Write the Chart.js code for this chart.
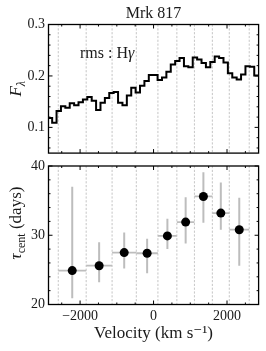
<!DOCTYPE html>
<html><head><meta charset="utf-8">
<script src="https://cdn.jsdelivr.net/npm/chart.js@4"></script>
<style>
html,body{margin:0;padding:0;background:#fff;}
#wrap{position:relative;width:266px;height:351px;overflow:hidden;}
#box1{position:absolute;left:0;top:0;width:266px;height:165px;}
#box2{position:absolute;left:0;top:150px;width:266px;height:201px;}
</style></head><body>
<div id="wrap"><div id="box1"><canvas id="c1"></canvas></div><div id="box2"><canvas id="c2"></canvas></div></div>
<script>
const FONT = "'Liberation Serif','DejaVu Serif',serif";
const TEXT = '#1a1a1a';

// ---- data ----
const chartTitle = 'Mrk 817';
const panelLabel = 'rms : H';
const xRange = [-2860, 2860];
const xTicks = [-2000, 0, 2000];
const fluxRange = [0.05, 0.3];
const fluxTicks = [0.1, 0.2, 0.3];
const tauRange = [20, 40];
const tauTicks = [20, 30, 40];
const fluxVelStart = -2880;
const fluxVelStep = 119.6;
const fluxValues = [0.118,0.109,0.132,0.141,0.138,0.147,0.143,0.149,0.154,0.159,0.152,0.134,
                    0.148,0.157,0.167,0.169,0.148,0.143,0.162,0.177,0.168,0.181,0.190,0.202,
                    0.202,0.192,0.197,0.208,0.222,0.229,0.235,0.219,0.217,0.236,0.232,0.225,
                    0.217,0.227,0.238,0.235,0.226,0.205,0.197,0.193,0.203,0.219,0.218,0.201];
const binEdges = [-2594, -1834, -1129, -469, 119, 635, 1113, 1601, 2062, 2605];
const tauValues = [24.9, 25.6, 27.5, 27.4, 29.9, 31.9, 35.6, 33.2, 30.8];
const tauErrUpper = [12.1, 3.4, 2.9, 2.1, 2.5, 3.6, 3.5, 4.4, 4.6];
const tauErrLower = [4.0, 2.4, 2.3, 2.9, 1.9, 3.1, 3.8, 2.4, 5.2];

// ---- derived ----
const stepPoints = fluxValues.map((v, i) => ({x: fluxVelStart + i * fluxVelStep, y: v}));
stepPoints.push({x: fluxVelStart + fluxValues.length * fluxVelStep, y: fluxValues[fluxValues.length - 1]});
const binCenters = binEdges.slice(0, -1).map((e, i) => (e + binEdges[i + 1]) / 2);
const tauPoints = tauValues.map((v, i) => ({x: binCenters[i], y: v}));

const fmtX = v => v < 0 ? '\u2212' + Math.abs(v) : String(v);

function drawRotated(ctx, cx, cy, pieces) {
  ctx.save();
  ctx.translate(cx, cy); ctx.rotate(-Math.PI / 2);
  let total = 0;
  pieces.forEach(p => { ctx.font = p.font; p.w = ctx.measureText(p.text).width; total += p.w; });
  let xx = -total / 2;
  ctx.textBaseline = 'alphabetic'; ctx.fillStyle = TEXT;
  pieces.forEach(p => { ctx.font = p.font; ctx.fillText(p.text, xx, 6 + (p.dy || 0)); xx += p.w; });
  ctx.restore();
}

function deco(opts) {
  return {
    id: 'deco' + opts.name,
    beforeDatasetsDraw(chart) {
      const {ctx, chartArea: a, scales: {x, y}} = chart;
      ctx.save();
      ctx.beginPath(); ctx.rect(a.left, a.top, a.width, a.height); ctx.clip();
      ctx.strokeStyle = '#b8b8b8'; ctx.lineWidth = 0.8; ctx.setLineDash([2.2, 1.6]);
      binEdges.forEach(v => {
        const px = x.getPixelForValue(v);
        ctx.beginPath(); ctx.moveTo(px, a.top); ctx.lineTo(px, a.bottom); ctx.stroke();
      });
      ctx.setLineDash([]);
      if (opts.errors) {
        ctx.strokeStyle = '#bdbdbd';
        tauValues.forEach((v, i) => {
          const px = x.getPixelForValue(binCenters[i]);
          const py = y.getPixelForValue(v);
          ctx.lineWidth = 2;
          ctx.beginPath();
          ctx.moveTo(px, y.getPixelForValue(v + tauErrUpper[i]));
          ctx.lineTo(px, y.getPixelForValue(v - tauErrLower[i]));
          ctx.stroke();
          ctx.lineWidth = 1.8;
          ctx.beginPath();
          ctx.moveTo(x.getPixelForValue(binEdges[i]), py);
          ctx.lineTo(x.getPixelForValue(binEdges[i + 1]), py);
          ctx.stroke();
        });
      }
      ctx.restore();
    },
    afterDraw(chart) {
      const {ctx, chartArea: a, scales: {x, y}} = chart;
      ctx.save();
      ctx.strokeStyle = '#000'; ctx.lineWidth = 1;
      const seg = (x1, y1, x2, y2) => { ctx.beginPath(); ctx.moveTo(x1, y1); ctx.lineTo(x2, y2); ctx.stroke(); };
      for (let k = Math.ceil(x.min / 500); k * 500 <= x.max; k++) {
        const v = k * 500;
        const L = xTicks.includes(v) ? 4 : 2;
        const px = x.getPixelForValue(v);
        seg(px, a.bottom, px, a.bottom - L);
        seg(px, a.top, px, a.top + L);
      }
      const st = opts.yMinor;
      for (let k = Math.ceil(y.min / st - 1e-6); k * st <= y.max + 1e-9; k++) {
        const v = +(k * st).toFixed(6);
        const major = opts.yMajors.some(m => Math.abs(m - v) < 1e-9);
        const L = major ? 4 : 2;
        const py = y.getPixelForValue(v);
        seg(a.left, py, a.left + L, py);
        seg(a.right, py, a.right - L, py);
      }
      ctx.lineWidth = 1.3;
      ctx.strokeRect(a.left, a.top, a.width, a.height);
      ctx.restore();
      opts.text(ctx, a);
    }
  };
}

const commonPlugins = {legend: {display: false}, tooltip: {enabled: false}};

new Chart(document.getElementById('c1'), {
  type: 'line',
  data: {datasets: [{data: stepPoints, stepped: true, borderColor: '#000', borderWidth: 2, pointRadius: 0, fill: false}]},
  options: {
    responsive: true, maintainAspectRatio: false, animation: false, devicePixelRatio: 1,
    layout: {padding: {left: 0, right: 7.4, top: 0, bottom: 0}},
    plugins: Object.assign({
      title: {display: true, text: chartTitle, fullSize: false, color: TEXT,
              font: {family: FONT, size: 16, weight: 'normal'}, padding: {top: 4.5, bottom: 0.8}}
    }, commonPlugins),
    scales: {
      x: {type: 'linear', min: xRange[0], max: xRange[1],
          grid: {display: false, drawTicks: false}, border: {display: false}, ticks: {display: false},
          afterBuildTicks(s) { s.ticks = xTicks.map(v => ({value: v})); },
          afterFit(s) { s.height = 2; }},
      y: {type: 'linear', min: fluxRange[0], max: fluxRange[1],
          grid: {display: false, drawTicks: false}, border: {display: false},
          ticks: {color: TEXT, padding: 3.5, font: {family: FONT, size: 14}, callback: v => v.toFixed(1)},
          afterBuildTicks(s) { s.ticks = fluxTicks.map(v => ({value: v})); },
          afterFit(s) { s.width = 48.5; }}
    }
  },
  plugins: [deco({name: 'top', yMinor: 0.02, yMajors: fluxTicks, errors: false, text(ctx, a) {
    ctx.save();
    ctx.fillStyle = TEXT; ctx.textBaseline = 'alphabetic';
    ctx.font = '16px ' + FONT;
    ctx.fillText(panelLabel, 80, 58);
    const w = ctx.measureText(panelLabel).width;
    ctx.font = 'italic 16px ' + FONT;
    ctx.fillText('\u03b3', 80 + w, 58);
    ctx.restore();
    drawRotated(ctx, 15, (a.top + a.bottom) / 2, [
      {text: 'F', font: 'italic 17px ' + FONT},
      {text: '\u03bb', font: 'italic 12px ' + FONT, dy: 3.5}
    ]);
  }})]
});

new Chart(document.getElementById('c2'), {
  type: 'scatter',
  data: {datasets: [{data: tauPoints, backgroundColor: '#000', borderWidth: 0, pointRadius: 4.5}]},
  options: {
    responsive: true, maintainAspectRatio: false, animation: false, devicePixelRatio: 1,
    layout: {padding: {left: 0, right: 7.4, top: 16, bottom: 0}},
    plugins: commonPlugins,
    scales: {
      x: {type: 'linear', min: xRange[0], max: xRange[1],
          grid: {display: false, drawTicks: false}, border: {display: false},
          ticks: {color: TEXT, padding: 3.5, font: {family: FONT, size: 14}, callback: v => fmtX(v), maxRotation: 0},
          title: {display: true, text: 'Velocity (km s\u207b\u00b9)', color: TEXT, font: {family: FONT, size: 17}, padding: {top: 0, bottom: 7.5}},
          afterBuildTicks(s) { s.ticks = xTicks.map(v => ({value: v})); },
          afterFit(s) { s.height = 46.5; }},
      y: {type: 'linear', min: tauRange[0], max: tauRange[1],
          grid: {display: false, drawTicks: false}, border: {display: false},
          ticks: {color: TEXT, padding: 3.5, font: {family: FONT, size: 14}, callback: v => String(v)},
          afterBuildTicks(s) { s.ticks = tauTicks.map(v => ({value: v})); },
          afterFit(s) { s.width = 48.5; }}
    }
  },
  plugins: [deco({name: 'bot', yMinor: 2, yMajors: tauTicks, errors: true, text(ctx, a) {
    drawRotated(ctx, 15, 73, [
      {text: '\u03c4', font: 'italic 17px ' + FONT},
      {text: 'cent', font: '12px ' + FONT, dy: 3.5},
      {text: ' (days)', font: '17px ' + FONT}
    ]);
  }})]
});
</script>
</body></html>
